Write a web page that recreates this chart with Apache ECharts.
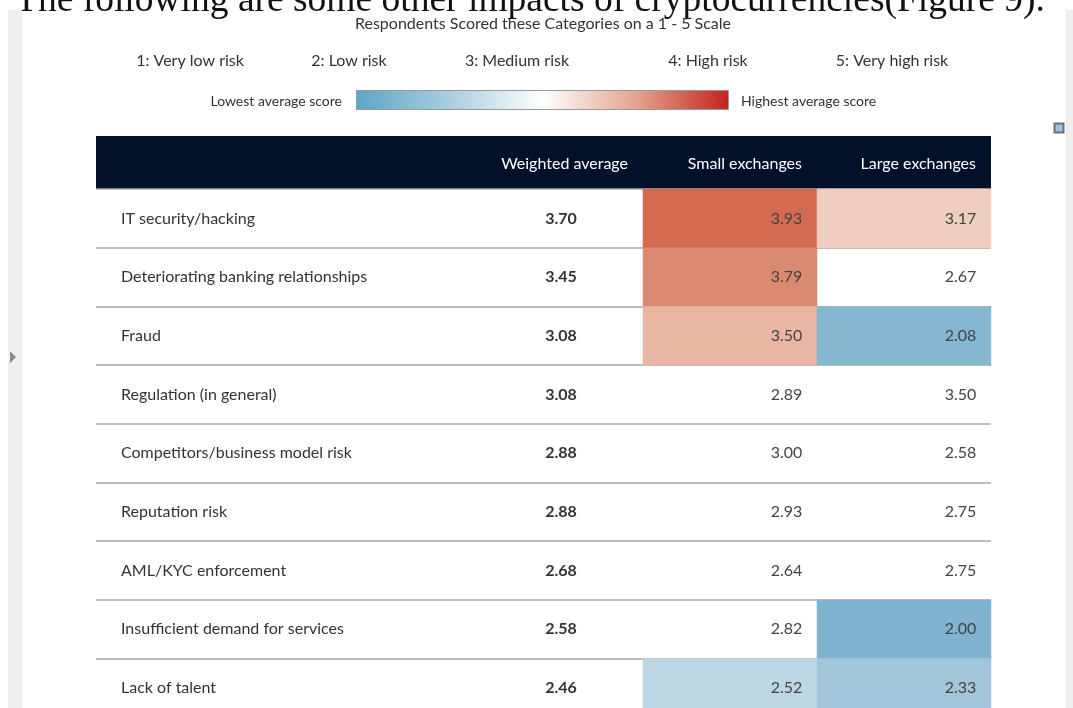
<!DOCTYPE html>
<html>
<head>
<meta charset="utf-8">
<script src="https://cdn.jsdelivr.net/npm/echarts@6/dist/echarts.min.js"></script>
<style>
  html, body { margin: 0; padding: 0; background: #fff; }
  #main { width: 1073px; height: 708px; }
</style>
</head>
<body>
<div id="main"></div>
<script>
// data
var categories = ['IT security/hacking', 'Deteriorating banking relationships', 'Fraud',
    'Regulation (in general)', 'Competitors/business model risk', 'Reputation risk',
    'AML/KYC enforcement', 'Insufficient demand for services', 'Lack of talent'];
var columns = ['Weighted average', 'Small exchanges', 'Large exchanges'];
var weighted = [3.70, 3.45, 3.08, 3.08, 2.88, 2.88, 2.68, 2.58, 2.46];
var smallEx = [3.93, 3.79, 3.50, 2.89, 3.00, 2.93, 2.64, 2.82, 2.52];
var largeEx = [3.17, 2.67, 2.08, 3.50, 2.58, 2.75, 2.75, 2.00, 2.33];
// which cells are shaded (1 = shaded)
var smallMark = [1, 1, 1, 0, 0, 0, 0, 0, 1];
var largeMark = [1, 0, 1, 0, 0, 0, 0, 1, 1];
var riskLabels = ['1: Very low risk', '2: Low risk', '3: Medium risk', '4: High risk', '5: Very high risk'];
var title = 'Respondents Scored these Categories on a 1 - 5 Scale';
var heading = 'The following are some other impacts of cryptocurrencies(Figure 9).';

var FONT = 'Lato, "Noto Sans", sans-serif';

// build heatmap data
var shaded = [], exchData = [], weightData = [];
for (var i = 0; i < categories.length; i++) {
    weightData.push([0, i, weighted[i]]);
    exchData.push([1, i, smallEx[i]]);
    exchData.push([2, i, largeEx[i]]);
    if (smallMark[i]) shaded.push([1, i, smallEx[i]]);
    if (largeMark[i]) shaded.push([2, i, largeEx[i]]);
}

var riskX = [190, 349, 517, 708, 892];
var graphics = [
    { type: 'text', left: 15, top: -18, silent: true,
      style: { text: heading, font: '37.5px "Liberation Serif", serif', fill: '#111' } },
    { type: 'rect', shape: { x: 8, y: 10, width: 14, height: 698 }, style: { fill: '#efefef' } },
    { type: 'rect', shape: { x: 1066, y: 10, width: 7, height: 698 }, style: { fill: '#efefef' } },
    { type: 'polygon', shape: { points: [[10, 351], [16, 357], [10, 363]] }, style: { fill: '#8a8a8a' } },
    { type: 'rect', shape: { x: 1054.5, y: 123.5, width: 9, height: 9 },
      style: { fill: '#9cc0da', stroke: '#5c7286', lineWidth: 2 } },
    { type: 'text', x: 543, y: 24,
      style: { text: title, font: '16px ' + FONT, fill: '#333', align: 'center', verticalAlign: 'middle' } },
    { type: 'rect', shape: { x: 96, y: 136, width: 895, height: 53 }, style: { fill: '#011129' }, z: -1 },
    { type: 'rect', shape: { x: 356.5, y: 90.5, width: 372, height: 19 },
      style: {
          stroke: '#9a9a9a', lineWidth: 1,
          fill: new echarts.graphic.LinearGradient(0, 0, 1, 0, [
              { offset: 0, color: '#5ea6c7' },
              { offset: 0.25, color: '#a8cde0' },
              { offset: 0.5, color: '#ffffff' },
              { offset: 0.75, color: '#e5a38e' },
              { offset: 1, color: '#c4231d' }
          ])
      } },
    { type: 'text', x: 342, y: 101,
      style: { text: 'Lowest average score', font: '14px ' + FONT, fill: '#333', align: 'right', verticalAlign: 'middle' } },
    { type: 'text', x: 741, y: 101,
      style: { text: 'Highest average score', font: '14px ' + FONT, fill: '#333', align: 'left', verticalAlign: 'middle' } }
];
riskLabels.forEach(function (t, k) {
    graphics.push({ type: 'text', x: riskX[k], y: 61,
        style: { text: t, font: '16px ' + FONT, fill: '#333', align: 'center', verticalAlign: 'middle' } });
});

var rowH = 58.7;
var option = {
    backgroundColor: '#fff',
    animation: false,
    textStyle: { fontFamily: FONT },
    graphic: graphics,
    grid: [
        { left: 96, width: 373, top: 189, height: rowH * categories.length, outerBoundsMode: 'none', containLabel: false },
        { left: 469, width: 522, top: 189, height: rowH * categories.length, outerBoundsMode: 'none', containLabel: false }
    ],
    xAxis: [
        { gridIndex: 0, type: 'category', data: [''], show: false },
        { gridIndex: 1, type: 'category', data: columns, position: 'top',
          axisLine: { show: false }, axisTick: { show: false },
          axisLabel: { interval: 0, margin: 25, verticalAlign: 'middle', color: '#fff',
                       formatter: function (v) { return '{h|' + v + '}'; },
                       rich: { h: { width: 144, align: 'right', fontSize: 16, color: '#fff', fontFamily: FONT } } } }
    ],
    yAxis: [
        { gridIndex: 0, type: 'category', data: categories, inverse: true,
          axisLine: { show: false }, axisTick: { show: false },
          axisLabel: { inside: true, margin: 25, interval: 0, fontSize: 16, color: '#333' },
          splitLine: { show: true, interval: 0, lineStyle: { color: '#a9a9a9', width: 1.5 } } },
        { gridIndex: 1, type: 'category', data: categories, inverse: true,
          axisLine: { show: false }, axisTick: { show: false }, axisLabel: { show: false },
          splitLine: { show: true, interval: 0, lineStyle: { color: '#a9a9a9', width: 1.5 } } }
    ],
    visualMap: {
        type: 'continuous', show: false, seriesIndex: 0, dimension: 2,
        min: 2, max: 4,
        inRange: { color: ['#7fb3cf', '#96bfd5', '#bad5e1', '#e0ebf0', '#f8eeea',
                           '#ebbfab', '#e8b6a2', '#dd937b', '#cf5a40'] }
    },
    series: [
        { name: 'shade', type: 'heatmap', xAxisIndex: 1, yAxisIndex: 1, data: shaded,
          z: 1, label: { show: false } },
        { name: 'Weighted average', type: 'heatmap', xAxisIndex: 1, yAxisIndex: 1, data: weightData,
          z: 3, itemStyle: { color: 'rgba(0,0,0,0)' },
          label: { show: true, position: 'inside', offset: [5, 0], fontSize: 16, fontWeight: 'bold', color: '#333',
                   formatter: function (p) { return p.value[2].toFixed(2); } } },
        { name: 'Exchanges', type: 'heatmap', xAxisIndex: 1, yAxisIndex: 1, data: exchData,
          z: 3, itemStyle: { color: 'rgba(0,0,0,0)' },
          label: { show: true, position: 'insideRight', distance: 15, fontSize: 16, color: '#444',
                   formatter: function (p) { return p.value[2].toFixed(2); } } }
    ]
};

var chart = echarts.init(document.getElementById('main'));
chart.setOption(option);
</script>
</body>
</html>
